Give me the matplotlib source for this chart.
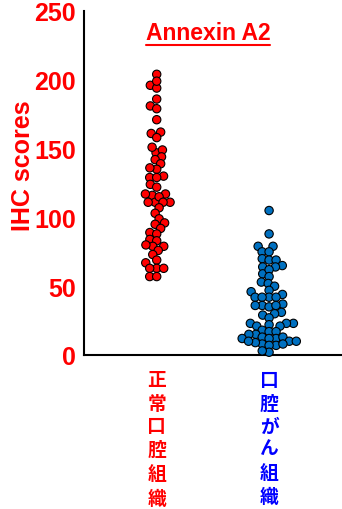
import matplotlib
matplotlib.use("Agg")
import matplotlib.pyplot as plt
from matplotlib.lines import Line2D
import numpy as np
import pandas as pd
import seaborn as sns

# IHC scores
normal_scores = [204, 196, 194, 199, 186, 181, 179, 171, 161, 162, 158, 147, 149, 151,
                 144, 142, 139, 135, 136, 130, 129, 129, 124, 122, 116, 117, 117, 111,
                 111, 115, 111, 111, 107, 103, 99, 95, 96, 92, 89, 88, 84, 83, 79, 80,
                 79, 76, 73, 69, 67, 63, 63, 63, 57, 57]
cancer_scores = [105, 88, 79, 79, 75, 75, 70, 69, 69, 64, 65, 64, 59, 62, 57, 53, 52,
                 50, 47, 46, 44, 42, 42, 42, 42, 37, 36, 35, 36, 36, 31, 30, 29, 27,
                 23, 23, 22, 23, 21, 21, 18, 17, 17, 15, 15, 13, 12, 13, 12, 12, 10,
                 8, 7, 9, 8, 7, 10, 10, 2, 3]

groups = ["正常口腔組織", "口腔がん組織"]
group_colors = ["#ff0000", "#0070c0"]
label_colors = ["#ff0000", "#0000ff"]
yticks = [0, 50, 100, 150, 200, 250]

df = pd.DataFrame({
    "group": [groups[0]] * len(normal_scores) + [groups[1]] * len(cancer_scores),
    "score": normal_scores + cancer_scores,
})

sns.set_style("white")
plt.rcParams["font.family"] = ["Liberation Sans", "Noto Sans CJK JP", "DejaVu Sans"]

fig = plt.figure(figsize=(3.42, 5.10), dpi=100)
ax = fig.add_axes([84 / 342, 1 - 356 / 510, 257 / 342, 344 / 510])

# swarm laid out with small markers so the dots overlap like the original
sns.swarmplot(data=df, x="group", y="score", hue="group", order=groups,
              palette=group_colors, size=4, edgecolor="black", linewidth=0.8,
              legend=False, ax=ax, clip_on=False)

ax.set_ylim(0, 250)
ax.set_xlim(-0.647, 1.64)
ax.set_yticks(yticks)
ax.set_yticklabels([str(v) for v in yticks], color="#ff0000",
                   fontsize=18, fontweight="bold")
ax.tick_params(axis="y", direction="in", length=6, width=1.5, pad=6, colors="black",
               labelcolor="#ff0000")
ax.set_xticks([0, 1])
ax.set_xticklabels(["\n".join(g) for g in groups], fontsize=13.5,
                   linespacing=1.43, va="top", fontweight="bold")
for lbl, c in zip(ax.get_xticklabels(), label_colors):
    lbl.set_color(c)
ax.tick_params(axis="x", length=0, pad=12)
ax.set_xlabel("")
ax.set_ylabel("IHC scores", color="#ff0000", fontsize=18, fontweight="bold")
ax.yaxis.set_label_coords(-0.19, 0.552)

for side in ["top", "right"]:
    ax.spines[side].set_visible(False)
for side in ["left", "bottom"]:
    ax.spines[side].set_linewidth(1.5)
    ax.spines[side].set_color("black")

# title with underline
title = fig.text(208 / 342, 1 - 33 / 510, "Annexin A2", color="#ff0000",
                 fontsize=16.5, fontweight="bold", ha="center", va="center")
fig.canvas.draw()
bb = title.get_window_extent().transformed(fig.transFigure.inverted())
fig.add_artist(Line2D([bb.x0, bb.x1], [bb.y0 - 0.002, bb.y0 - 0.002],
                      color="#ff0000", linewidth=1.5, transform=fig.transFigure))

# keep the swarm positions, then enlarge the dots
for coll in ax.collections:
    if "draw" in coll.__dict__:
        del coll.draw
    coll.set_sizes([6 ** 2])

fig.savefig("out.png", dpi=100)
